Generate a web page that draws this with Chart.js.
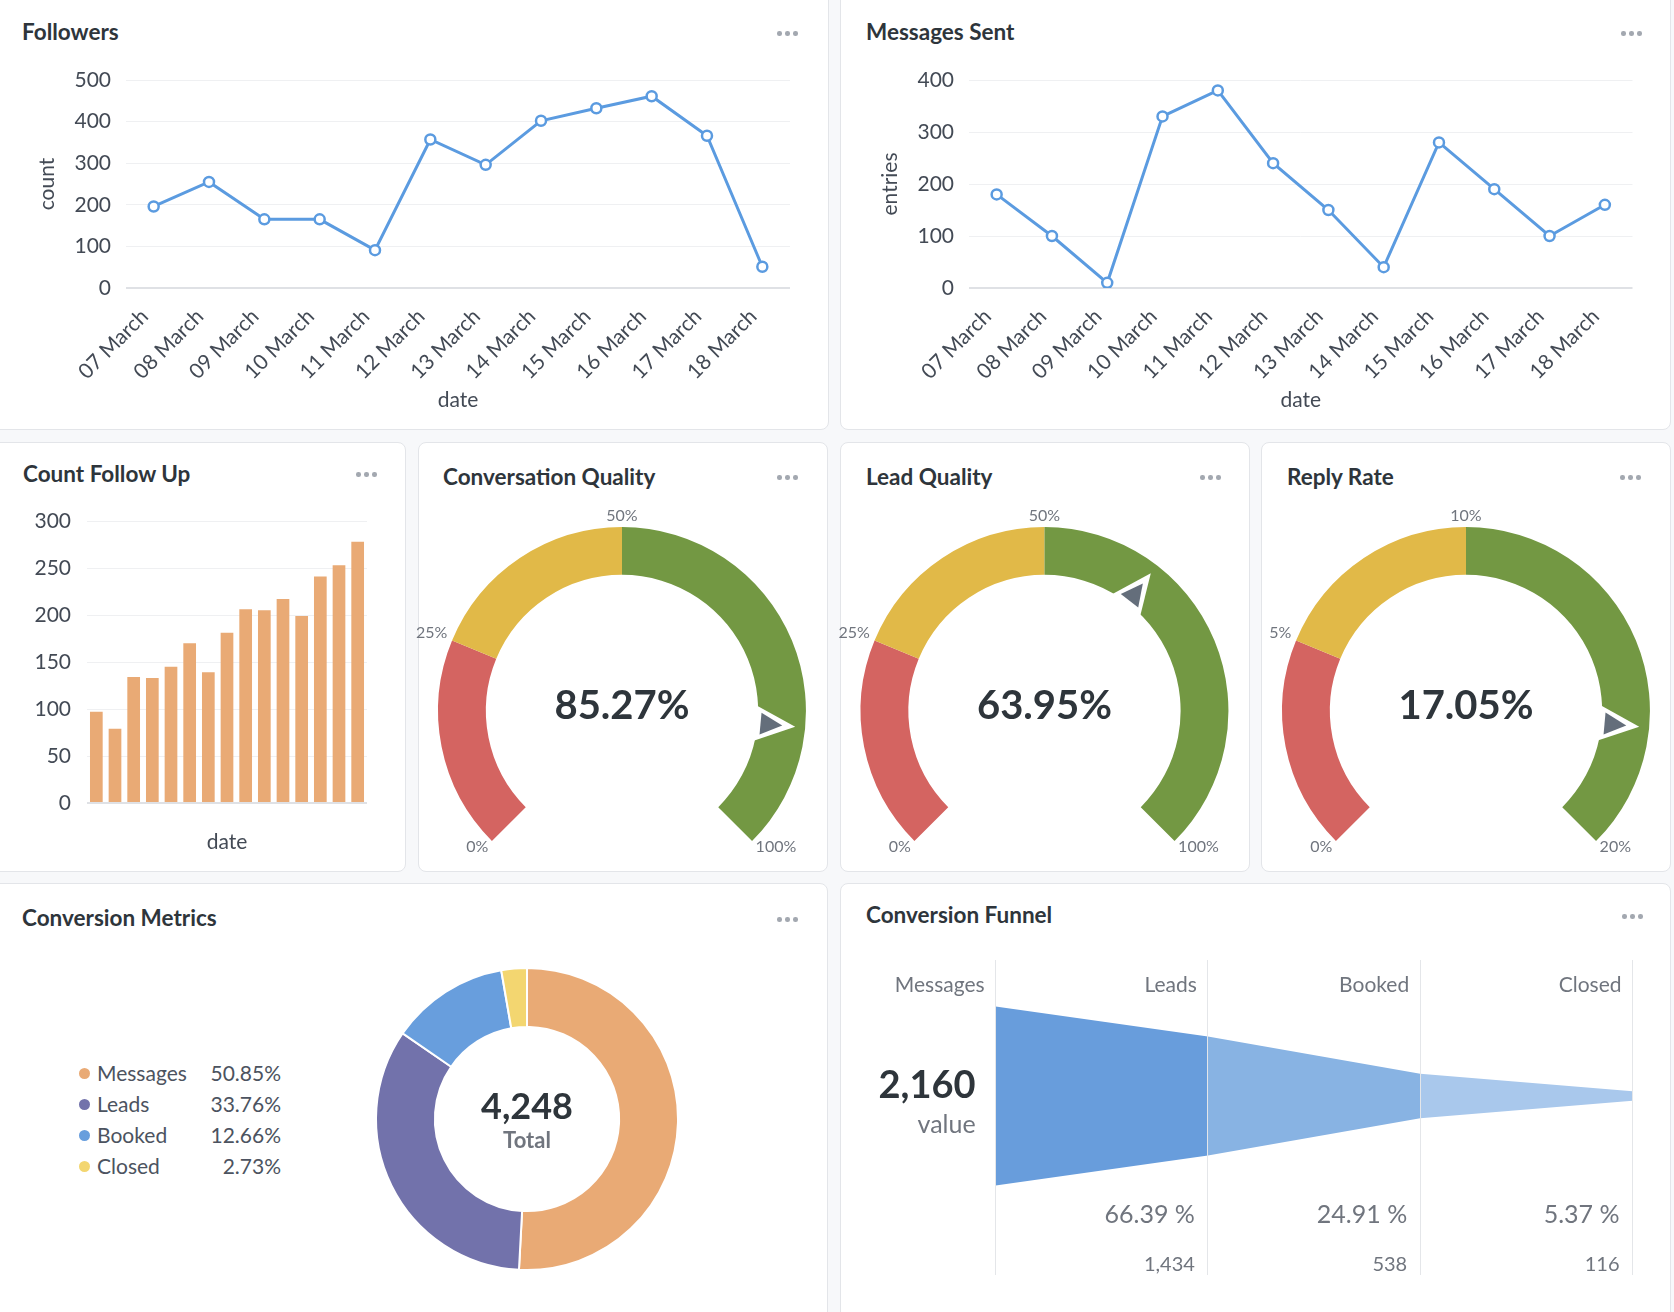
<!DOCTYPE html>
<html>
<head>
<meta charset="utf-8">
<script src="https://cdn.jsdelivr.net/npm/chart.js@4.4.1/dist/chart.umd.min.js"></script>
<style>
  html, body { margin: 0; padding: 0; }
  body { width: 1674px; height: 1312px; background: #f7f8fa; position: relative; overflow: hidden; font-family: Lato, sans-serif; }
  .card { position: absolute; background: #fff; border: 1px solid #e3e5e9; border-radius: 8px; box-sizing: border-box; }
  .title { position: absolute; font-weight: bold; font-size: 22.5px; color: #2e353b; line-height: 1; white-space: nowrap; }
  .dots { position: absolute; height: 5px; display: flex; gap: 3.5px; }
  .dots i { display: block; width: 4.5px; height: 4.5px; border-radius: 50%; background: #a3a8b0; }
  .box { position: absolute; }
  .legend-row { position: absolute; height: 24px; line-height: 24px; font-size: 21px; color: #4c5360; }
  .legend-row b { position: absolute; top: 6.5px; width: 11px; height: 11px; border-radius: 50%; }
</style>
</head>
<body>

<div class="card" style="left:-10px;top:-10px;width:839px;height:440px"></div>
<div class="card" style="left:840px;top:-10px;width:831px;height:440px"></div>
<div class="card" style="left:-10px;top:442px;width:416px;height:430px"></div>
<div class="card" style="left:418px;top:442px;width:410px;height:430px"></div>
<div class="card" style="left:840px;top:442px;width:410px;height:430px"></div>
<div class="card" style="left:1261px;top:442px;width:410px;height:430px"></div>
<div class="card" style="left:-10px;top:883px;width:838px;height:450px"></div>
<div class="card" style="left:840px;top:883px;width:831px;height:450px"></div>

<div class="title" style="left:22px;top:21px">Followers</div>
<div class="title" style="left:866px;top:21px">Messages Sent</div>
<div class="title" style="left:23px;top:463px">Count Follow Up</div>
<div class="title" style="left:443px;top:466px">Conversation Quality</div>
<div class="title" style="left:866px;top:466px">Lead Quality</div>
<div class="title" style="left:1287px;top:466px">Reply Rate</div>
<div class="title" style="left:22px;top:907px">Conversion Metrics</div>
<div class="title" style="left:866px;top:904px">Conversion Funnel</div>

<div class="dots" style="left:777px;top:31px"><i></i><i></i><i></i></div>
<div class="dots" style="left:1621px;top:31px"><i></i><i></i><i></i></div>
<div class="dots" style="left:356px;top:472px"><i></i><i></i><i></i></div>
<div class="dots" style="left:777px;top:475px"><i></i><i></i><i></i></div>
<div class="dots" style="left:1200px;top:475px"><i></i><i></i><i></i></div>
<div class="dots" style="left:1620px;top:475px"><i></i><i></i><i></i></div>
<div class="dots" style="left:777px;top:917px"><i></i><i></i><i></i></div>
<div class="dots" style="left:1622px;top:914px"><i></i><i></i><i></i></div>

<div class="box" style="left:0px;top:0px;width:829px;height:430px"><canvas id="followers"></canvas></div>
<div class="box" style="left:840px;top:0px;width:831px;height:430px"><canvas id="messages"></canvas></div>
<div class="box" style="left:0px;top:442px;width:406px;height:430px"><canvas id="followUp"></canvas></div>
<div class="box" style="left:408px;top:442px;width:420px;height:430px"><canvas id="convQuality"></canvas></div>
<div class="box" style="left:830px;top:442px;width:420px;height:430px"><canvas id="leadQuality"></canvas></div>
<div class="box" style="left:1251px;top:442px;width:420px;height:430px"><canvas id="replyRate"></canvas></div>
<div class="box" style="left:372px;top:964px;width:310px;height:310px"><canvas id="metrics"></canvas></div>
<div class="box" style="left:840px;top:882px;width:831px;height:430px"><canvas id="funnel"></canvas></div>
<div id="legend"></div>

<script>
const dates = ['07 March', '08 March', '09 March', '10 March', '11 March', '12 March',
    '13 March', '14 March', '15 March', '16 March', '17 March', '18 March'];
const followers = [196, 255, 165, 165, 91, 357, 296, 402, 432, 461, 366, 51];
const messagesSent = [180, 100, 10, 330, 380, 240, 150, 40, 280, 190, 100, 160];

const followUpDates = ['04 March', '05 March', '06 March', '07 March', '08 March', '09 March', '10 March',
    '11 March', '12 March', '13 March', '14 March', '15 March', '16 March', '17 March', '18 March'];
const followUpCounts = [97, 79, 134, 133, 145, 170, 139, 181, 206, 205, 217, 199, 241, 253, 278];

const conversationQuality = 85.27;
const leadQuality = 63.95;
const replyRate = 17.05;
const qualityBands = [0, 25, 50, 100];
const replyBands = [0, 5, 10, 20];
const gaugeColors = ['#d46461', '#e1b948', '#739843'];

const stages = ['Messages', 'Leads', 'Booked', 'Closed'];
const stageValues = [2160, 1434, 538, 116];
const stageColors = ['#e9aa75', '#7272ab', '#689edd', '#f3d670'];
const funnelColors = ['#689ddc', '#88b3e3', '#a9c8ec'];

const tickColor = '#434a55';
const softText = '#70757e';

Chart.defaults.font.family = 'Lato';
Chart.defaults.color = tickColor;
Chart.defaults.animation = false;
Chart.defaults.maintainAspectRatio = false;
Chart.defaults.plugins.legend.display = false;
Chart.defaults.plugins.tooltip.enabled = false;

let gridColor = c => c.tick && c.tick.value === 0 ? '#dfe1e5' : '#eff0f2';
let gridWidth = c => c.tick && c.tick.value === 0 ? 2 : 1;

function lineChart(id, values, yTitle, yMax, yWidth, titlePad, padRight){
    new Chart(document.getElementById(id), {
        type: 'line',
        data: {
            labels: dates,
            datasets: [{
                data: values,
                borderColor: '#5b9be0',
                borderWidth: 3,
                pointRadius: 5,
                pointBorderWidth: 2.5,
                pointBackgroundColor: '#fff',
                pointBorderColor: '#5b9be0'
            }]
        },
        options: {
            layout: { padding: { top: 80, right: padRight, left: 0, bottom: 0 } },
            scales: {
                x: {
                    offset: true,
                    grid: { display: false },
                    border: { display: false },
                    ticks: { color: tickColor, font: { size: 21 }, minRotation: 45, maxRotation: 45, autoSkip: false, padding: 8, labelOffset: -9 },
                    title: { display: true, text: 'date', color: tickColor, font: { size: 21 }, padding: { top: 0, bottom: 17 } },
                    afterFit: s => { s.height = 142; }
                },
                y: {
                    min: 0,
                    max: yMax,
                    ticks: { stepSize: 100, color: tickColor, font: { size: 21 }, padding: 15 },
                    grid: { color: gridColor, lineWidth: gridWidth, drawTicks: false, tickLength: 0 },
                    border: { display: false },
                    title: { display: true, text: yTitle, color: tickColor, font: { size: 21 }, padding: { top: titlePad, bottom: 0 } },
                    afterFit: s => { s.width = yWidth; }
                }
            }
        }
    });
}

lineChart('followers', followers, 'count', 500, 126, 35, 39);
lineChart('messages', messagesSent, 'entries', 400, 129, 38, 38.5);

new Chart(document.getElementById('followUp'), {
    type: 'bar',
    data: {
        labels: followUpDates,
        datasets: [{ data: followUpCounts, backgroundColor: '#e9aa75', categoryPercentage: 1, barPercentage: 0.68 }]
    },
    options: {
        layout: { padding: { top: 79, right: 39, left: 0, bottom: 0 } },
        scales: {
            x: {
                grid: { display: false },
                border: { display: false },
                ticks: { display: false },
                title: { display: true, text: 'date', color: tickColor, font: { size: 21 }, padding: { top: 0, bottom: 17 } },
                afterFit: s => { s.height = 69; }
            },
            y: {
                min: 0,
                max: 300,
                ticks: { stepSize: 50, color: tickColor, font: { size: 21 }, padding: 16 },
                grid: { color: gridColor, lineWidth: gridWidth, drawTicks: false, tickLength: 0 },
                border: { display: false },
                afterFit: s => { s.width = 87; }
            }
        }
    }
});

function gauge(id, value, bands, pad){
    let widths = [];
    for(let i = 1; i < bands.length; i++) widths.push(bands[i] - bands[i - 1]);
    let maxVal = bands[bands.length - 1];
    new Chart(document.getElementById(id), {
        type: 'doughnut',
        data: {
            labels: widths.map((w, i) => bands[i] + '-' + bands[i + 1]),
            datasets: [{ data: widths, backgroundColor: gaugeColors, borderWidth: 0 }]
        },
        options: {
            rotation: -135,
            circumference: 270,
            cutout: '74%',
            events: [],
            layout: { padding: pad }
        },
        plugins: [{
            id: 'gaugeMarks',
            afterDraw(chart){
                let arc = chart.getDatasetMeta(0).data[0];
                let cx = arc.x, cy = arc.y, R = arc.outerRadius, r = arc.innerRadius;
                let ctx = chart.ctx;
                ctx.save();
                // band labels
                ctx.font = '16px Lato';
                ctx.fillStyle = softText;
                ctx.textBaseline = 'middle';
                bands.forEach(b => {
                    let a = (-225 + b / maxVal * 270) * Math.PI / 180;
                    let x = cx + Math.cos(a) * (R + 5);
                    let y = cy + Math.sin(a) * (R + 5) + (Math.sin(a) > 0 ? 2 : -6);
                    ctx.textAlign = Math.cos(a) < -0.1 ? 'right' : (Math.cos(a) > 0.1 ? 'left' : 'center');
                    ctx.fillText(b + '%', x, y);
                });
                // pointer
                let a = (-225 + Math.min(value / maxVal, 1) * 270) * Math.PI / 180;
                let ux = Math.cos(a), uy = Math.sin(a), px = -uy, py = ux;
                let tri = (rb, rt, hw, col) => {
                    ctx.beginPath();
                    ctx.moveTo(cx + ux * rt, cy + uy * rt);
                    ctx.lineTo(cx + ux * rb + px * hw, cy + uy * rb + py * hw);
                    ctx.lineTo(cx + ux * rb - px * hw, cy + uy * rb - py * hw);
                    ctx.closePath();
                    ctx.fillStyle = col;
                    ctx.fill();
                };
                tri(r - 3, R - 10, 18, '#ffffff');
                tri(r + 3, R - 23, 11, '#646e7b');
                // value
                ctx.font = 'bold 40px Lato';
                ctx.fillStyle = '#2e353b';
                ctx.textAlign = 'center';
                ctx.textBaseline = 'alphabetic';
                ctx.fillText(value.toFixed(2) + '%', cx, cy + 8);
                ctx.restore();
            }
        }]
    });
}

gauge('convQuality', conversationQuality, qualityBands, { left: 30, right: 22, top: 85, bottom: 31 });
gauge('leadQuality', leadQuality, qualityBands, { left: 30.5, right: 21.5, top: 85, bottom: 31 });
gauge('replyRate', replyRate, replyBands, { left: 30.5, right: 20.5, top: 85, bottom: 31 });

let total = stageValues.reduce((s, v) => s + v, 0);

new Chart(document.getElementById('metrics'), {
    type: 'doughnut',
    data: {
        labels: stages,
        datasets: [{ data: stageValues, backgroundColor: stageColors, borderColor: '#fff', borderWidth: 2 }]
    },
    options: {
        cutout: '61%',
        events: [],
        layout: { padding: 3 }
    },
    plugins: [{
        id: 'centerTotal',
        afterDraw(chart){
            let arc = chart.getDatasetMeta(0).data[0];
            let ctx = chart.ctx;
            ctx.save();
            ctx.textAlign = 'center';
            ctx.fillStyle = '#2e353b';
            ctx.font = 'bold 36px Lato';
            ctx.fillText(total.toLocaleString('en-US'), arc.x, arc.y);
            ctx.fillStyle = softText;
            ctx.font = 'bold 22px Lato';
            ctx.fillText('Total', arc.x, arc.y + 29);
            ctx.restore();
        }
    }]
});

// legend of the donut
let legend = document.getElementById('legend');
stages.forEach((s, i) => {
    let row = document.createElement('div');
    row.className = 'legend-row';
    row.style.left = '79px';
    row.style.top = (1061 + i * 31) + 'px';
    row.style.width = '202px';
    row.innerHTML = '<b style="left:0;background:' + stageColors[i] + '"></b>' +
        '<span style="position:absolute;left:18px">' + s + '</span>' +
        '<span style="position:absolute;right:0">' + (stageValues[i] / total * 100).toFixed(2) + '%</span>';
    legend.appendChild(row);
});

let funnelSets = [];
for(let i = 0; i < stageValues.length - 1; i++){
    funnelSets.push({
        data: [{ x: i, y: stageValues[i] / 2 }, { x: i + 1, y: stageValues[i + 1] / 2 }],
        fill: '+1', backgroundColor: funnelColors[i], borderColor: 'rgba(0,0,0,0)', borderWidth: 0, pointRadius: 0
    });
    funnelSets.push({
        data: [{ x: i, y: -stageValues[i] / 2 }, { x: i + 1, y: -stageValues[i + 1] / 2 }],
        fill: false, borderColor: 'rgba(0,0,0,0)', borderWidth: 0, pointRadius: 0
    });
}

new Chart(document.getElementById('funnel'), {
    type: 'line',
    data: { datasets: funnelSets },
    options: {
        events: [],
        layout: { padding: { left: 155.6, right: 38.5, top: 78, bottom: 37 } },
        scales: {
            x: {
                type: 'linear',
                min: 0,
                max: stageValues.length - 1,
                ticks: { display: false, stepSize: 1 },
                grid: { color: '#e4e6e9', drawTicks: false, tickLength: 0, z: 1 },
                border: { display: false },
                afterFit: s => { s.height = 0; }
            },
            y: { display: false, min: -2160, max: 1640 }
        }
    },
    plugins: [{
        id: 'funnelText',
        afterDraw(chart){
            let ctx = chart.ctx, xs = chart.scales.x, top = chart.chartArea.top;
            ctx.save();
            ctx.textAlign = 'right';
            ctx.textBaseline = 'alphabetic';
            stages.forEach((s, i) => {
                let x = xs.getPixelForValue(i) - 11;
                ctx.fillStyle = softText;
                ctx.font = '21px Lato';
                ctx.fillText(s, x, top + 32);
                if(i > 0){
                    ctx.font = '25px Lato';
                    ctx.fillText((stageValues[i] / stageValues[0] * 100).toFixed(2) + ' %', x - 2, top + 263);
                    ctx.font = '20px Lato';
                    ctx.fillText(stageValues[i].toLocaleString('en-US'), x - 2, top + 311);
                }
            });
            let x0 = xs.getPixelForValue(0) - 20;
            ctx.fillStyle = '#2e353b';
            ctx.font = 'bold 38px Lato';
            ctx.fillText(stageValues[0].toLocaleString('en-US'), x0, top + 138);
            ctx.fillStyle = softText;
            ctx.font = '25px Lato';
            ctx.fillText('value', x0, top + 173);
            ctx.restore();
        }
    }]
});
</script>
</body>
</html>
